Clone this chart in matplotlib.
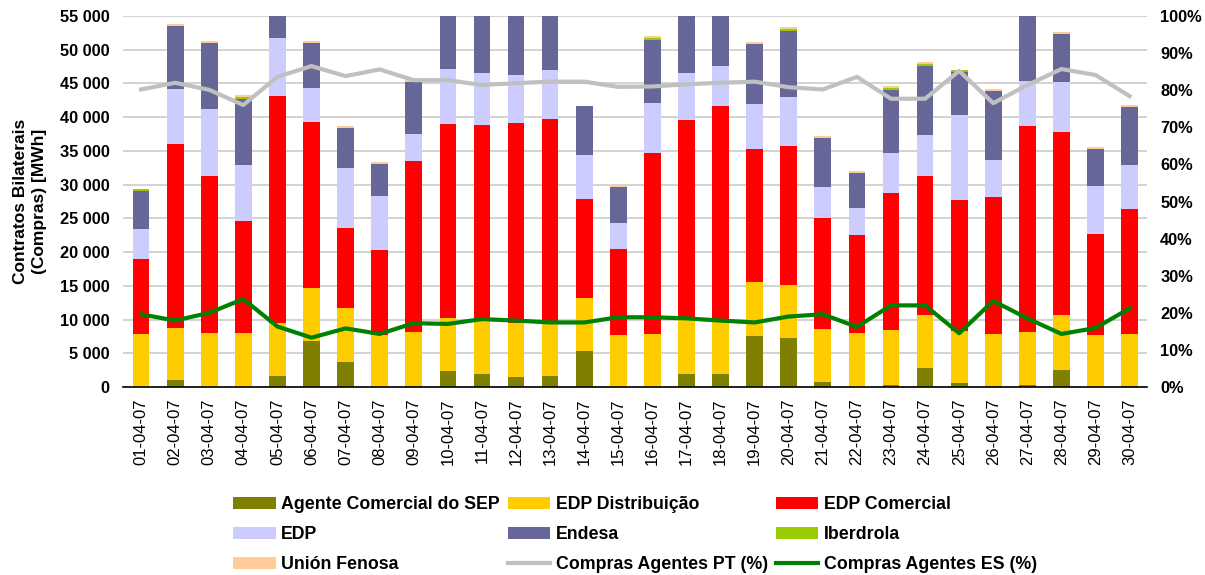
import numpy as np
import matplotlib.pyplot as plt
from matplotlib.ticker import FuncFormatter

plt.rcParams['font.family'] = ['Liberation Sans', 'DejaVu Sans']

# Datas (dias de Abril 2007)
datas = ['%02d-04-07' % d for d in range(1, 31)]

# Compras por agente [MWh]
agente_sep = [0, 1040, 0, 0, 1630, 6870, 3750, 0, 150, 2420,
              1930, 1480, 1630, 5340, 0, 0, 1930, 1930, 7560, 7310,
              740, 0, 300, 2820, 590, 150, 300, 2520, 0, 150]
edp_distrib = [7860, 7710, 8050, 8050, 7900, 7810, 7960, 7710, 8000, 7810,
               8000, 7960, 8050, 7860, 7710, 7860, 8000, 7870, 8010, 7810,
               7860, 8000, 8150, 7850, 7710, 7710, 7850, 8150, 7710, 7710]
edp_comercial = [11120, 27280, 23230, 16610, 33610, 24610, 11860, 12600, 25350, 28760,
                 28910, 29700, 30050, 14670, 12750, 26830, 29650, 31860, 19720, 20610,
                 16460, 14540, 20310, 20610, 19420, 20310, 30550, 27140, 14970, 18530]
edp = [4420, 8150, 9920, 8240, 8660, 5040, 8900, 8010, 4000, 8160,
       7760, 7120, 7270, 6530, 3850, 7410, 6970, 5940, 6670, 7250,
       4590, 4000, 5930, 6080, 12610, 5480, 6670, 7410, 7120, 6520]
endesa = [5660, 9390, 9800, 9750, 10100, 6670, 5930, 4740, 7700, 9700,
          10400, 10000, 9900, 7260, 5340, 9350, 10500, 10400, 8890, 9800,
          7270, 5190, 9340, 10230, 6370, 10240, 10300, 7120, 5490, 8600]
iberdrola = [300, 0, 0, 300, 0, 0, 0, 0, 0, 0,
             0, 0, 0, 0, 0, 290, 0, 0, 0, 300,
             0, 0, 300, 300, 300, 0, 0, 0, 0, 0]
union_fenosa = [0, 230, 300, 300, 0, 300, 300, 300, 300, 0,
                0, 0, 0, 0, 300, 300, 0, 0, 300, 290,
                290, 290, 300, 290, 0, 290, 0, 290, 290, 300]

# Percentagens
compras_pt = [80.2, 82.0, 80.1, 76.0, 83.6, 86.5, 83.8, 85.6, 82.7, 82.7,
              81.4, 81.9, 82.3, 82.3, 80.9, 81.0, 81.6, 82.0, 82.3, 80.8,
              80.2, 83.6, 77.7, 77.7, 85.2, 76.5, 81.4, 85.7, 84.1, 78.4]
compras_es = [19.6, 17.9, 20.0, 23.7, 16.3, 13.3, 15.8, 14.3, 17.2, 17.0,
              18.3, 17.9, 17.4, 17.4, 18.8, 18.8, 18.5, 17.9, 17.4, 19.0,
              19.6, 16.2, 22.0, 22.0, 14.5, 23.2, 18.5, 14.3, 15.9, 21.2]

series = [
    ('Agente Comercial do SEP', agente_sep, '#808000'),
    ('EDP Distribuição', edp_distrib, '#FFCC00'),
    ('EDP Comercial', edp_comercial, '#FF0000'),
    ('EDP', edp, '#CCCCFF'),
    ('Endesa', endesa, '#666699'),
    ('Iberdrola', iberdrola, '#99CC00'),
    ('Unión Fenosa', union_fenosa, '#FFCC99'),
]

fig = plt.figure(figsize=(12.05, 5.75), dpi=100)
ax = fig.add_axes([123 / 1205, 188 / 575, 1024 / 1205, 371 / 575])
x = np.arange(len(datas))

handles = []
base = np.zeros(len(datas))
for nome, vals, cor in series:
    b = ax.bar(x, vals, 0.49, bottom=base, color=cor, label=nome, zorder=2)
    handles.append(b)
    base += np.array(vals)

ax.set_ylim(0, 55000)
ax.set_yticks(np.arange(0, 55001, 5000))
ax.yaxis.set_major_formatter(FuncFormatter(lambda v, p: '{:,.0f}'.format(v).replace(',', ' ')))
ax.set_xlim(-0.53, 29.51)
ax.set_xticks(x)
ax.set_xticklabels(datas, rotation=90, fontsize=12)
ax.grid(axis='y', color='#cccccc', linewidth=1.2, zorder=0)
ax.set_axisbelow(True)
for s in ['top', 'left', 'right']:
    ax.spines[s].set_visible(False)
ax.spines['bottom'].set_color('black')
ax.spines['bottom'].set_linewidth(1.2)
ax.tick_params(axis='y', length=0, pad=9.5, labelsize=11.8)
ax.tick_params(axis='x', length=0, pad=8)
for t in ax.get_yticklabels():
    t.set_fontweight('bold')
fig.text(30 / 1205, 1 - 201 / 575, 'Contratos Bilaterais\n(Compras) [MWh]', rotation=90,
         ha='center', va='center', fontsize=12.5, fontweight='bold', multialignment='center',
         linespacing=1.4)

ax2 = ax.twinx()
ax2.set_ylim(0, 100)
ax2.set_yticks(np.arange(0, 101, 10))
ax2.yaxis.set_major_formatter(FuncFormatter(lambda v, p: '%d%%' % v))
for s in ['top', 'left', 'right', 'bottom']:
    ax2.spines[s].set_visible(False)
ax2.tick_params(axis='y', length=0, pad=9.5, labelsize=11.8)
for t in ax2.get_yticklabels():
    t.set_fontweight('bold')
l1, = ax2.plot(x, compras_pt, color='#c0c0c0', linewidth=3, label='Compras Agentes PT (%)')
l2, = ax2.plot(x, compras_es, color='#008000', linewidth=3, label='Compras Agentes ES (%)')

# legenda em 3 colunas, preenchida por linhas
handles += [l1, l2]
ordem = [0, 3, 6, 1, 4, 7, 2, 5, 8]
hs = [handles[i] for i in ordem]
fig.legend(handles=hs, labels=[h.get_label() for h in hs],
           ncol=3, loc='upper left', bbox_to_anchor=(233 / 1205, 1 - 496 / 575),
           frameon=False, prop={'weight': 'bold', 'size': 12.8},
           borderpad=0, borderaxespad=0,
           handlelength=2.4, handleheight=0.7, columnspacing=0.45,
           handletextpad=0.3, labelspacing=0.73)

fig.savefig('out.png', dpi=100)
